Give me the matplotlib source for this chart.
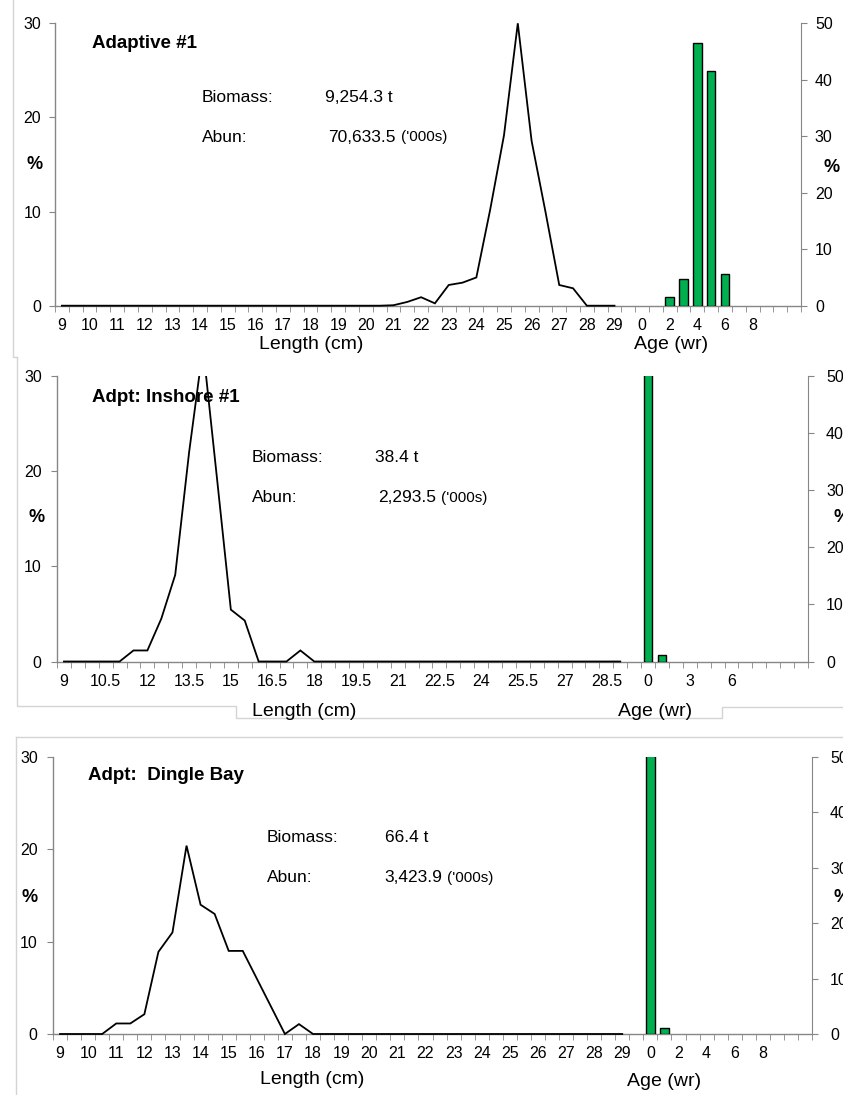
import matplotlib
matplotlib.use('Agg')
import matplotlib.pyplot as plt
import numpy as np
from matplotlib.lines import Line2D
from matplotlib.patches import Rectangle

plt.rcParams['font.family'] = ['Liberation Sans', 'DejaVu Sans']

W, H = 843, 1095

# ---------------- data ----------------
length_classes = [9, 9.5, 10, 10.5, 11, 11.5, 12, 12.5, 13, 13.5, 14, 14.5, 15, 15.5,
                  16, 16.5, 17, 17.5, 18, 18.5, 19, 19.5, 20, 20.5, 21, 21.5, 22, 22.5,
                  23, 23.5, 24, 24.5, 25, 25.5, 26, 26.5, 27, 27.5, 28, 28.5, 29]
ages = [0, 1, 2, 3, 4, 5, 6, 7, 8]

len_pct_adaptive1 = [0, 0, 0, 0, 0, 0, 0, 0, 0, 0, 0, 0, 0, 0,
                     0, 0, 0, 0, 0, 0, 0, 0, 0, 0, 0.05, 0.4, 0.9, 0.25,
                     2.2, 2.45, 3.0, 10.2, 18.1, 30.0, 17.5, 10.0, 2.2, 1.85, 0, 0, 0]
age_pct_adaptive1 = [0, 0, 1.48, 4.66, 46.6, 41.6, 5.6, 0, 0]

len_pct_inshore1 = [0, 0, 0, 0, 0, 1.16, 1.16, 4.5, 9.1, 22.0, 33.0, 19.3, 5.45, 4.3,
                    0, 0, 0, 1.16, 0, 0, 0, 0, 0, 0, 0, 0, 0, 0,
                    0, 0, 0, 0, 0, 0, 0, 0, 0, 0, 0, 0, 0]
age_pct_inshore1 = [98.8, 1.2, 0, 0, 0, 0, 0, 0, 0]

len_pct_dingle = [0, 0, 0, 0, 1.14, 1.14, 2.14, 8.9, 11.0, 20.4, 14.0, 13.0, 9.0, 9.0,
                  6.0, 3.0, 0, 1.07, 0, 0, 0, 0, 0, 0, 0, 0, 0, 0,
                  0, 0, 0, 0, 0, 0, 0, 0, 0, 0, 0, 0, 0]
age_pct_dingle = [99.0, 1.0, 0, 0, 0, 0, 0, 0, 0]

n_trailing_blank = 3

# ---------------- helpers ----------------
GRAY = '#868686'
BORDER = '#d4d4d4'
GREEN = '#00B050'


def fx(x):
    return x / W


def fy(y):
    return 1 - y / H


fig = plt.figure(figsize=(W / 100, H / 100), dpi=100)

cats = [f"{v:g}" for v in length_classes] + [""] + [str(a) for a in ages] + [""] * n_trailing_blank
n_slots = len(cats)
x_len = np.arange(len(length_classes))
x_age = len(length_classes) + 1 + np.array(ages)


def panel(l, r, t, b, lpct, apct, step, title, title_xy, lpad, rpad):
    ax = fig.add_axes([fx(l), fy(b), fx(r - l), (b - t) / H])
    ax.set_xlim(-0.5, n_slots - 0.5)
    ax.set_ylim(0, 30)
    ln, = ax.plot(x_len, lpct, color='black', lw=1.3, zorder=3,
                  solid_joinstyle='miter')
    clip = Rectangle((0, -0.05), 1, 1.05, transform=ax.transAxes)
    ln.set_clip_path(clip)
    ax.spines['top'].set_visible(False)
    ax.spines['right'].set_visible(False)
    for s in ('left', 'bottom'):
        ax.spines[s].set_color(GRAY)
        ax.spines[s].set_linewidth(1.0)
    ticks = list(range(0, n_slots, step))
    ax.set_xticks(ticks)
    ax.set_xticklabels([cats[i] for i in ticks])
    ax.set_xticks(np.arange(-0.5, n_slots, 1), minor=True)
    ax.tick_params(axis='x', which='major', length=0, pad=9, labelsize=11.5)
    ax.tick_params(axis='x', which='minor', length=4.5, color=GRAY, direction='out')
    ax.set_yticks([0, 10, 20, 30])
    ax.tick_params(axis='y', length=4, color=GRAY, pad=lpad, labelsize=11.5)

    ax2 = ax.twinx()
    ax2.set_ylim(0, 50)
    apct = np.asarray(apct, dtype=float)
    nz = apct > 0
    ax2.bar(x_age[nz], apct[nz], width=0.62, color=GREEN, edgecolor='black',
            linewidth=1.0, zorder=2)
    for s in ('top', 'left', 'bottom'):
        ax2.spines[s].set_visible(False)
    ax2.spines['right'].set_color(GRAY)
    ax2.set_yticks([0, 10, 20, 30, 40, 50])
    ax2.tick_params(axis='y', length=4, color=GRAY, pad=rpad, labelsize=11.5)

    fig.text(fx(title_xy[0]), fy(title_xy[1]), title, fontsize=13.5, fontweight='bold',
             ha='left', va='center')
    return ax


def info(x_lab, x_val, y1, y2, biomass, abun):
    fig.text(fx(x_lab), fy(y1), "Biomass:", fontsize=12.5, ha='left', va='center')
    fig.text(fx(x_val[0]), fy(y1), biomass, fontsize=12.5, ha='left', va='center')
    fig.text(fx(x_lab), fy(y2), "Abun:", fontsize=12.5, ha='left', va='center')
    t = fig.text(fx(x_val[1]), fy(y2), abun, fontsize=12.5, ha='left', va='center')
    rend = fig.canvas.get_renderer()
    bb = t.get_window_extent(renderer=rend)
    fig.text(fx(bb.x1 + 5), fy(y2), "('000s)", fontsize=11, ha='left', va='center')


def bg_box(x0, y0, x1, y1):
    fig.add_artist(Rectangle((fx(x0), fy(y1)), fx(x1 - x0), (y1 - y0) / H,
                             transform=fig.transFigure, facecolor='#fbfbf2',
                             edgecolor='none', zorder=0))


def border(xs, ys):
    fig.add_artist(Line2D([fx(x) for x in xs], [fy(y) for y in ys],
                          transform=fig.transFigure, color=BORDER, lw=1.0))


# ---------------- borders ----------------
border([13, 13, 17], [0, 357, 357])
border([17, 17, 236, 236, 722, 722, 843], [357, 706, 706, 718, 718, 707, 707])
border([16, 16], [1095, 737])
border([16, 843], [737, 737])

# ---------------- panel 1 ----------------
bg_box(187, 82, 480, 152)
panel(55, 801, 23.3, 305.7, len_pct_adaptive1, age_pct_adaptive1, 2,
      "Adaptive #1", (92, 43), 6, 6)
info(202, (325, 328), 98, 137, "9,254.3 t", "70,633.5")
fig.text(fx(311), fy(345), "Length (cm)", fontsize=14, ha='center', va='center')
fig.text(fx(671), fy(345), "Age (wr)", fontsize=14, ha='center', va='center')
fig.text(fx(35), fy(165), "%", fontsize=13, fontweight='bold', ha='center', va='center')
fig.text(fx(832), fy(167), "%", fontsize=13, fontweight='bold', ha='center', va='center')

# ---------------- panel 2 ----------------
panel(57, 808, 376, 661.5, len_pct_inshore1, age_pct_inshore1, 3,
      "Adpt: Inshore #1", (92, 398), 7, 9)
info(252, (375, 378), 457, 498, "38.4 t", "2,293.5")
fig.text(fx(304), fy(712), "Length (cm)", fontsize=14, ha='center', va='center')
fig.text(fx(655), fy(711), "Age (wr)", fontsize=14, ha='center', va='center')
fig.text(fx(37), fy(517), "%", fontsize=13, fontweight='bold', ha='center', va='center')
fig.text(fx(842), fy(517), "%", fontsize=13, fontweight='bold', ha='center', va='center')

# ---------------- panel 3 ----------------
bg_box(255, 818, 545, 905)
panel(53, 812, 757, 1034, len_pct_dingle, age_pct_dingle, 2,
      "Adpt:  Dingle Bay", (88, 776), 7, 9)
info(267, (385, 384), 838, 878, "66.4 t", "3,423.9")
fig.text(fx(312), fy(1080), "Length (cm)", fontsize=14, ha='center', va='center')
fig.text(fx(664), fy(1082), "Age (wr)", fontsize=14, ha='center', va='center')
fig.text(fx(30), fy(897), "%", fontsize=13, fontweight='bold', ha='center', va='center')
fig.text(fx(842), fy(897), "%", fontsize=13, fontweight='bold', ha='center', va='center')

fig.savefig("out.png", dpi=100)
